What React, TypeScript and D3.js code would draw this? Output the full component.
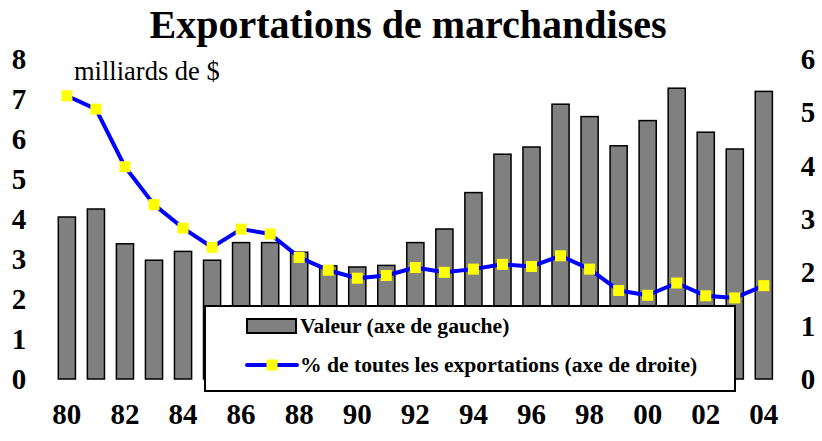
import React from "react";
import * as d3 from "d3";

const years = d3.range(1980, 2005);
const valeur = [4.05, 4.25, 3.38, 2.97, 3.19, 2.97, 3.41, 3.41, 3.17, 2.83, 2.8, 2.84, 3.41, 3.75, 4.66, 5.62, 5.8, 6.87, 6.56, 5.83, 6.46, 7.27, 6.17, 5.75, 7.19];
const pct = [5.31, 5.06, 3.98, 3.27, 2.83, 2.47, 2.81, 2.72, 2.28, 2.04, 1.89, 1.94, 2.09, 2.0, 2.06, 2.15, 2.11, 2.31, 2.06, 1.66, 1.57, 1.8, 1.56, 1.52, 1.75];
const leftTicks = [0, 1, 2, 3, 4, 5, 6, 7, 8];
const rightTicks = [0, 1, 2, 3, 4, 5, 6];
const xLabelYears = years.filter((y) => y % 2 === 0);

const W = 822;
const H = 441;
const FONT = "'Liberation Serif', 'Times New Roman', serif";

export default function App() {
  const x = d3.scaleBand<number>().domain(years).range([52.5, 778.2]).paddingInner(0.41).paddingOuter(0.2);
  const yL = d3.scaleLinear().domain([0, 8]).range([379, 59]);
  const yR = d3.scaleLinear().domain([0, 6]).range([379, 59]);
  const cx = (yr: number) => (x(yr) as number) + x.bandwidth() / 2;
  const line = d3
    .line<number>()
    .x((_, i) => cx(years[i]))
    .y((d) => yR(d));
  const ms = 11;

  return (
    <svg width={W} height={H} style={{ position: "absolute", left: 0, top: 0, background: "#fff" }} fontFamily={FONT}>
      <rect x={0} y={0} width={W} height={H} fill="#fff" />
      <text x={408} y={38} textAnchor="middle" fontSize={40} fontWeight="bold">
        Exportations de marchandises
      </text>
      <text x={74} y={80} fontSize={26.5}>
        milliards de $
      </text>
      {leftTicks.map((t) => (
        <text key={"l" + t} x={19} y={yL(t)} dy="0.34em" textAnchor="middle" fontSize={29} fontWeight="bold">
          {t}
        </text>
      ))}
      {rightTicks.map((t) => (
        <text key={"r" + t} x={808} y={yR(t)} dy="0.34em" textAnchor="middle" fontSize={29} fontWeight="bold">
          {t}
        </text>
      ))}
      {years.map((yr, i) => (
        <rect
          key={yr}
          x={x(yr)}
          y={yL(valeur[i])}
          width={x.bandwidth()}
          height={yL(0) - yL(valeur[i])}
          fill="#808080"
          stroke="#000"
          strokeWidth={1.5}
        />
      ))}
      <path d={line(pct) || ""} fill="none" stroke="#0000ff" strokeWidth={4} strokeLinejoin="round" />
      {pct.map((v, i) => (
        <rect key={"m" + i} x={cx(years[i]) - ms / 2} y={yR(v) - ms / 2} width={ms} height={ms} fill="#ffff00" />
      ))}
      {xLabelYears.map((yr) => (
        <text key={"x" + yr} x={cx(yr)} y={424} textAnchor="middle" fontSize={29} fontWeight="bold">
          {String(yr).slice(2)}
        </text>
      ))}
      <g>
        <rect x={205} y={306} width={530} height={85} fill="#fff" stroke="#000" strokeWidth={2} />
        <rect x={247} y={319} width={49} height={14} fill="#808080" stroke="#000" strokeWidth={2} />
        <text x={300} y={333} fontSize={21.6} fontWeight="bold">
          Valeur (axe de gauche)
        </text>
        <line x1={247} x2={297} y1={365} y2={365} stroke="#0000ff" strokeWidth={4} strokeLinecap="round" />
        <rect x={272 - ms / 2} y={365 - ms / 2} width={ms} height={ms} fill="#ffff00" />
        <text x={300} y={372} fontSize={21.6} fontWeight="bold">
          % de toutes les exportations (axe de droite)
        </text>
      </g>
    </svg>
  );
}
